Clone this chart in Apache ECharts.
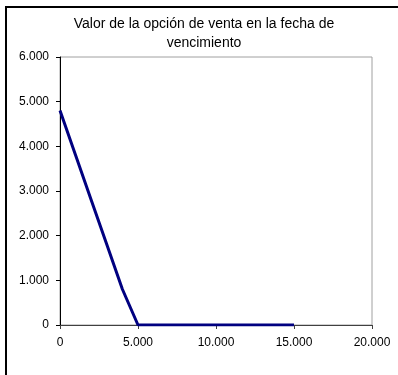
<!DOCTYPE html>
<html><head><meta charset="utf-8">
<script src="https://cdn.jsdelivr.net/npm/echarts@6/dist/echarts.min.js"></script>
<style>html,body{margin:0;padding:0;background:#fff}#c{width:398px;height:375px}</style>
</head><body><div id="c"></div>
<script>
var titleText = 'Valor de la opción de venta en la fecha de\nvencimiento';
var prices = [0, 1000, 2000, 3000, 4000, 5000, 6000, 7000, 8000, 9000, 10000, 11000, 12000, 13000, 14000, 15000];
var putValues = [4800, 3800, 2800, 1800, 800, 0, 0, 0, 0, 0, 0, 0, 0, 0, 0, 0];
var xTicks = [0, 5000, 10000, 15000, 20000];
var yTicks = [0, 1000, 2000, 3000, 4000, 5000, 6000];

function fmt(v){ return String(v).replace(/\B(?=(\d{3})+(?!\d))/g, '.'); }

var chart = echarts.init(document.getElementById('c'));
chart.setOption({
  animation: false,
  backgroundColor: '#fff',
  title: {
    text: titleText, left: 204, top: 15, textAlign: 'center', padding: 0,
    textStyle: {fontFamily: 'Liberation Sans', fontSize: 14, fontWeight: 'normal', color: '#000', lineHeight: 19}
  },
  graphic: [{
    type: 'rect', shape: {x: 6, y: 7, width: 420, height: 400},
    style: {fill: 'none', stroke: '#000', lineWidth: 2}, silent: true
  }],
  grid: {left: 60, right: 26, top: 57, bottom: 50, show: true, borderColor: '#a0a0a0', borderWidth: 1, backgroundColor: 'transparent'},
  xAxis: {
    type: 'value', min: xTicks[0], max: xTicks[xTicks.length-1], interval: 5000,
    axisLine: {show: true, onZero: false, lineStyle: {color: '#404040', width: 1}},
    axisTick: {show: true, length: 4, lineStyle: {color: '#404040'}},
    splitLine: {show: false},
    axisLabel: {fontFamily: 'Liberation Sans', fontSize: 12, color: '#000', margin: 12, formatter: fmt}
  },
  yAxis: {
    type: 'value', min: yTicks[0], max: yTicks[yTicks.length-1], interval: 1000,
    axisLine: {show: true, onZero: false, lineStyle: {color: '#000', width: 1}},
    axisTick: {show: true, length: 4, lineStyle: {color: '#000'}},
    splitLine: {show: false},
    axisLabel: {fontFamily: 'Liberation Sans', fontSize: 12, color: '#000', margin: 11, formatter: fmt}
  },
  series: [{
    type: 'line', data: prices.map(function(p, i){ return [p, putValues[i]]; }),
    showSymbol: false, lineStyle: {color: '#000080', width: 3}, z: 5
  }]
});
</script></body></html>
